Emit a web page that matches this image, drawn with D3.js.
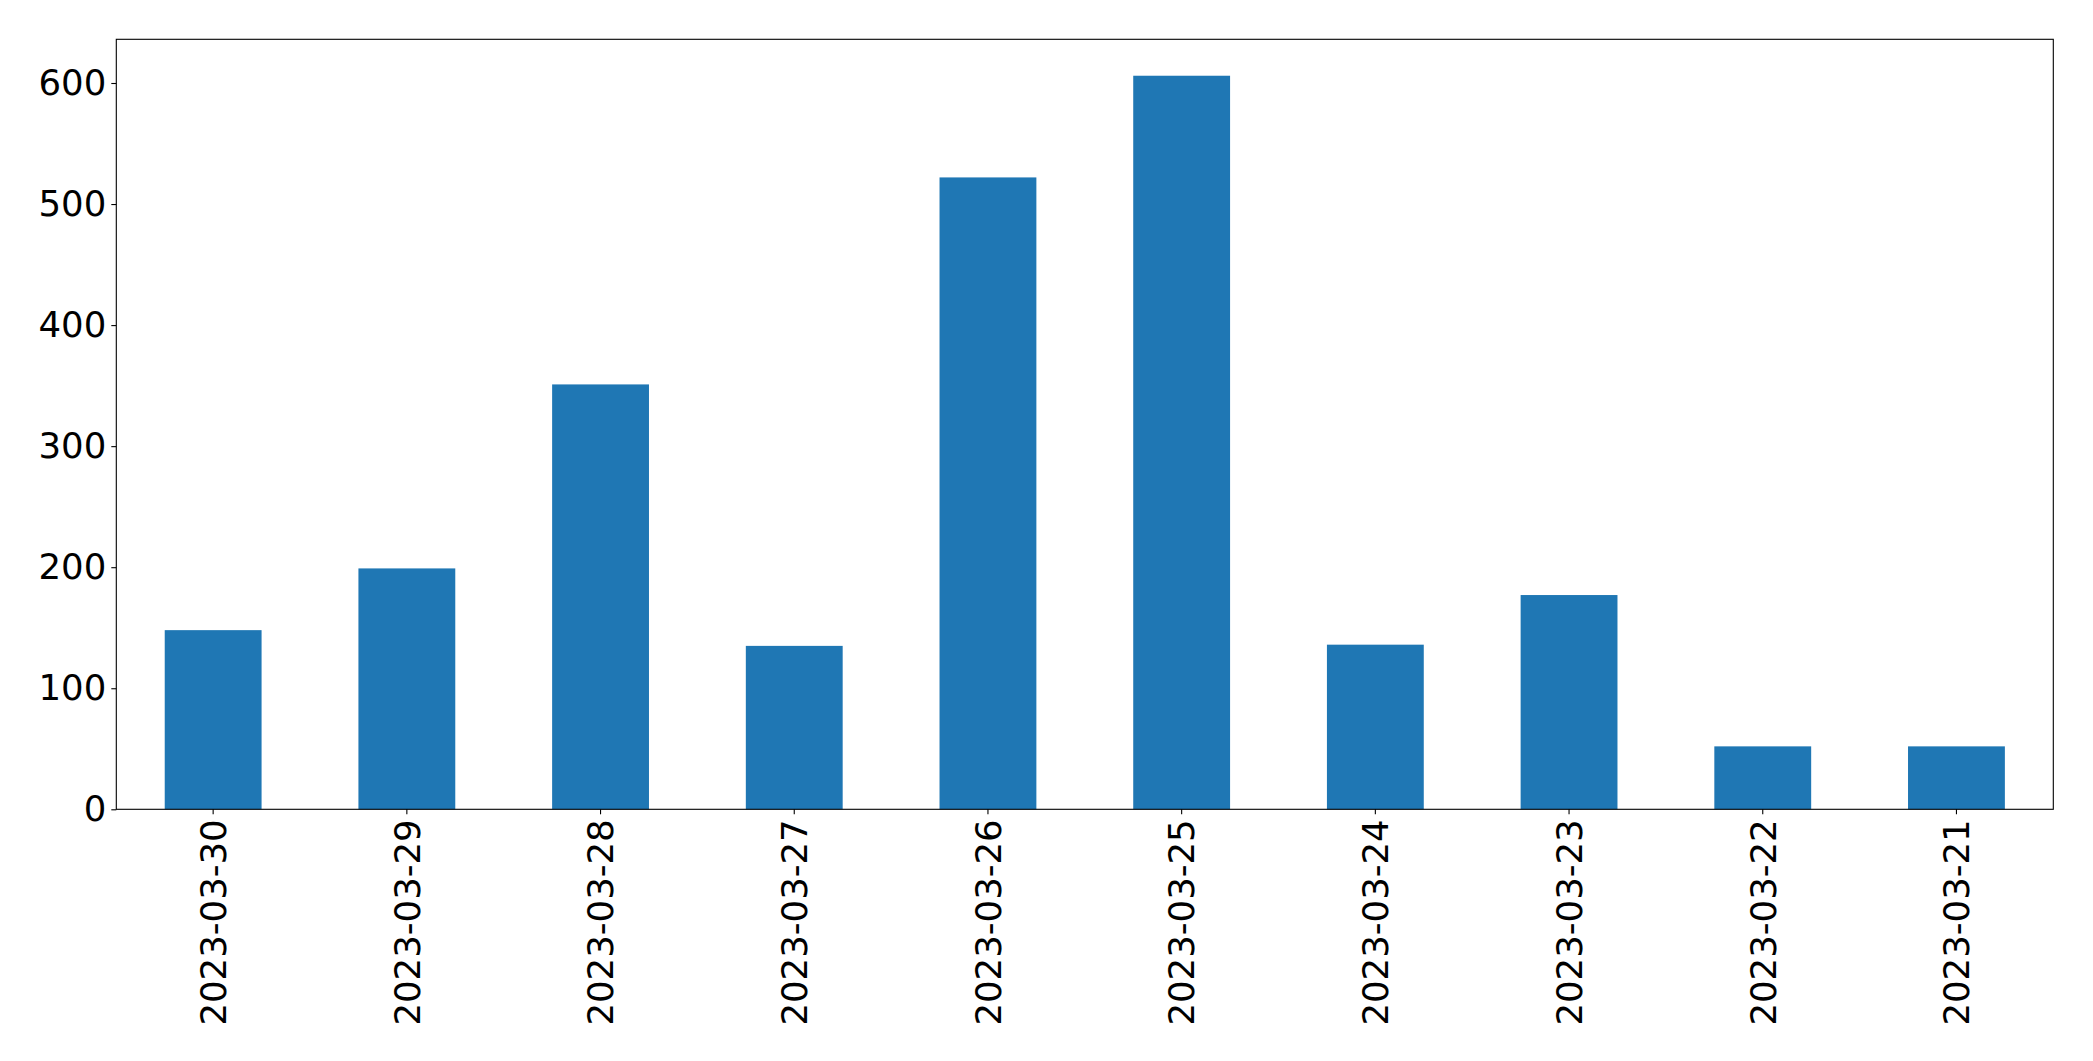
<!DOCTYPE html>
<html>
<head>
<meta charset="utf-8">
<script src="https://cdn.jsdelivr.net/npm/d3@7"></script>
<style>
  html, body { margin: 0; padding: 0; background: #fff; }
  svg { display: block; }
  text { font-family: "DejaVu Sans", sans-serif; fill: #000; }
</style>
</head>
<body>
<svg id="chart" width="2093" height="1061"></svg>
<script>
const categories = ["2023-03-30","2023-03-29","2023-03-28","2023-03-27","2023-03-26","2023-03-25","2023-03-24","2023-03-23","2023-03-22","2023-03-21"];
const values = [148, 199, 351, 135, 522, 606, 136, 177, 52, 52];
const yTicks = [0, 100, 200, 300, 400, 500, 600];
const yMax = 636.1;

(function () {
const W = 2093, H = 1061;
const mLeft = 116.3, mRight = 2053.3, mTop = 39.3, mBottom = 809.3;
const fontSize = 35.5;

const svg = d3.select("#chart");

const x = d3.scaleBand().domain(categories).range([mLeft, mRight]).paddingInner(0.5).paddingOuter(0.25);
const y = d3.scaleLinear().domain([0, yMax]).range([mBottom, mTop]);

svg.append("rect").attr("x", 0).attr("y", 0).attr("width", W).attr("height", H).attr("fill", "#fff");

svg.append("g").selectAll("rect").data(categories).join("rect")
  .attr("x", d => x(d))
  .attr("width", x.bandwidth())
  .attr("y", (d, i) => y(values[i]))
  .attr("height", (d, i) => y(0) - y(values[i]))
  .attr("fill", "#1f77b4");

// Y axis
const yAxis = svg.append("g").attr("transform", `translate(${mLeft},0)`)
  .call(d3.axisLeft(y).tickValues(yTicks).tickSize(5).tickPadding(5).tickFormat(d3.format("d")));
yAxis.select(".domain").remove();
yAxis.selectAll("line").attr("stroke", "#000").attr("stroke-width", 1.1);
yAxis.selectAll("text").style("font-size", fontSize + "px").attr("font-family", "DejaVu Sans").attr("fill", "#000");

// X axis
const xAxis = svg.append("g").attr("transform", `translate(0,${mBottom})`)
  .call(d3.axisBottom(x).tickSize(5).tickPadding(5));
xAxis.select(".domain").remove();
xAxis.selectAll("line").attr("stroke", "#000").attr("stroke-width", 1.1);
xAxis.selectAll("text")
  .style("font-size", fontSize + "px")
  .attr("font-family", "DejaVu Sans")
  .attr("fill", "#000")
  .attr("text-anchor", "end")
  .attr("transform", "rotate(-90)")
  .attr("x", -10)
  .attr("y", 0)
  .attr("dy", "0.36em");

// Frame (spines)
svg.append("rect")
  .attr("x", mLeft).attr("y", mTop)
  .attr("width", mRight - mLeft).attr("height", mBottom - mTop)
  .attr("fill", "none").attr("stroke", "#000").attr("stroke-width", 1.1);
})();
</script>
</body>
</html>
